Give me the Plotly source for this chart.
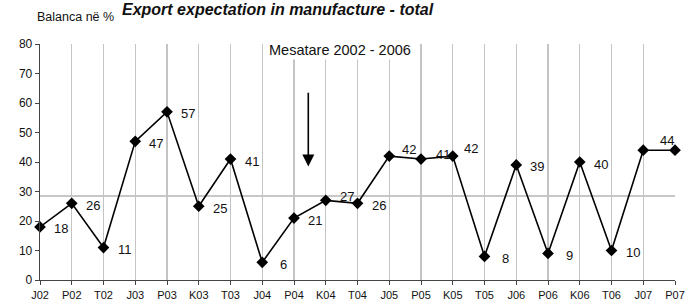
import plotly.graph_objects as go

categories = ["J02", "P02", "T02", "J03", "P03", "K03", "T03", "J04", "P04", "K04", "T04",
              "J05", "P05", "K05", "T05", "J06", "P06", "K06", "T06", "J07", "P07"]
values = [18, 26, 11, 47, 57, 25, 41, 6, 21, 27, 26, 42, 41, 42, 8, 39, 9, 40, 10, 44, 44]
labels = ["18", "26", "11", "47", "57", "25", "41", "6", "21", "27", "26", "42", "41", "42",
          "8", "39", "9", "40", "10", "44", ""]
average_2002_2006 = 28.5
y_ticks = [0, 10, 20, 30, 40, 50, 60, 70, 80]

xs = list(range(len(categories)))

# label offsets in pixels (dx, dy) - style only
label_shift = {9: (21, 4), 11: (20, 7), 12: (22, 5), 13: (18, 8), 19: (24, 10)}

FONT = "Liberation Sans, Arial, sans-serif"
TXT = "#111"

W, H = 689, 306
ml, mr, mt, mb = 40, 14, 44, 25.5


def px_to_paper(px, py):
    return (px - ml) / (W - ml - mr), 1 - (py - mt) / (H - mt - mb)


fig = go.Figure()
fig.add_trace(go.Scatter(
    x=xs, y=values, mode="lines+markers",
    line=dict(color="black", width=1.6),
    marker=dict(symbol="diamond", size=9, color="black"),
    cliponaxis=False, hoverinfo="skip", showlegend=False,
))

annotations = []
for i, (xv, yv, t) in enumerate(zip(xs, values, labels)):
    if not t:
        continue
    dx, dy = label_shift.get(i, (21, -2))
    annotations.append(dict(x=xv, y=yv, xref="x", yref="y", text=t, showarrow=False,
                            xshift=dx, yshift=dy, font=dict(family=FONT, size=13, color=TXT)))

# arrow pointing to the average line
annotations.append(dict(x=8.45, y=38.5, ax=8.45, ay=64, xref="x", yref="y", axref="x", ayref="y",
                        showarrow=True, arrowhead=2, arrowsize=1.5, arrowwidth=1.6,
                        arrowcolor="black", text=""))

bx, by = px_to_paper(340, 50)
annotations.append(dict(x=bx, y=by, xref="paper", yref="paper", text="Mesatare 2002 - 2006",
                        showarrow=False, xanchor="center", yanchor="middle",
                        font=dict(family=FONT, size=14.5, color=TXT), bgcolor="white"))
bx, by = px_to_paper(35, 17)
annotations.append(dict(x=bx, y=by, xref="paper", yref="paper", text="Balanca në %",
                        showarrow=False, xanchor="left", yanchor="middle",
                        font=dict(family=FONT, size=12.5, color=TXT)))
bx, by = px_to_paper(278, 9)
annotations.append(dict(x=bx, y=by, xref="paper", yref="paper",
                        text="<b><i>Export expectation in manufacture - total</i></b>",
                        showarrow=False, xanchor="center", yanchor="middle",
                        font=dict(family=FONT, size=16, color=TXT)))

fig.add_shape(type="line", x0=0, x1=20, y0=average_2002_2006, y1=average_2002_2006,
              xref="x", yref="y", line=dict(color="#b4b4b4", width=1.6), layer="below")

fig.update_layout(
    width=W, height=H, margin=dict(l=ml, r=mr, t=mt, b=mb, autoexpand=False),
    plot_bgcolor="white", paper_bgcolor="white",
    font=dict(family=FONT, size=12, color=TXT),
    annotations=annotations,
    hovermode=False,
    xaxis=dict(range=[0, 20], tickvals=xs, ticktext=categories, showgrid=True,
               gridcolor="#c4c4c4", gridwidth=1.3, zeroline=False, automargin=False,
               ticks="outside", ticklen=4, tickcolor="#444",
               showline=True, linecolor="#444", linewidth=1.3,
               tickfont=dict(family=FONT, size=11, color=TXT)),
    yaxis=dict(range=[0, 80], tickvals=y_ticks, showgrid=False, zeroline=False, automargin=False,
               ticks="outside", ticklen=4, tickcolor="#444",
               showline=True, linecolor="#444", linewidth=1.3,
               tickfont=dict(family=FONT, size=12, color=TXT)),
)

fig.write_html("out.html", config={"displayModeBar": False, "staticPlot": True},
               post_script="document.body.style.margin='0';document.body.style.padding='0';")
